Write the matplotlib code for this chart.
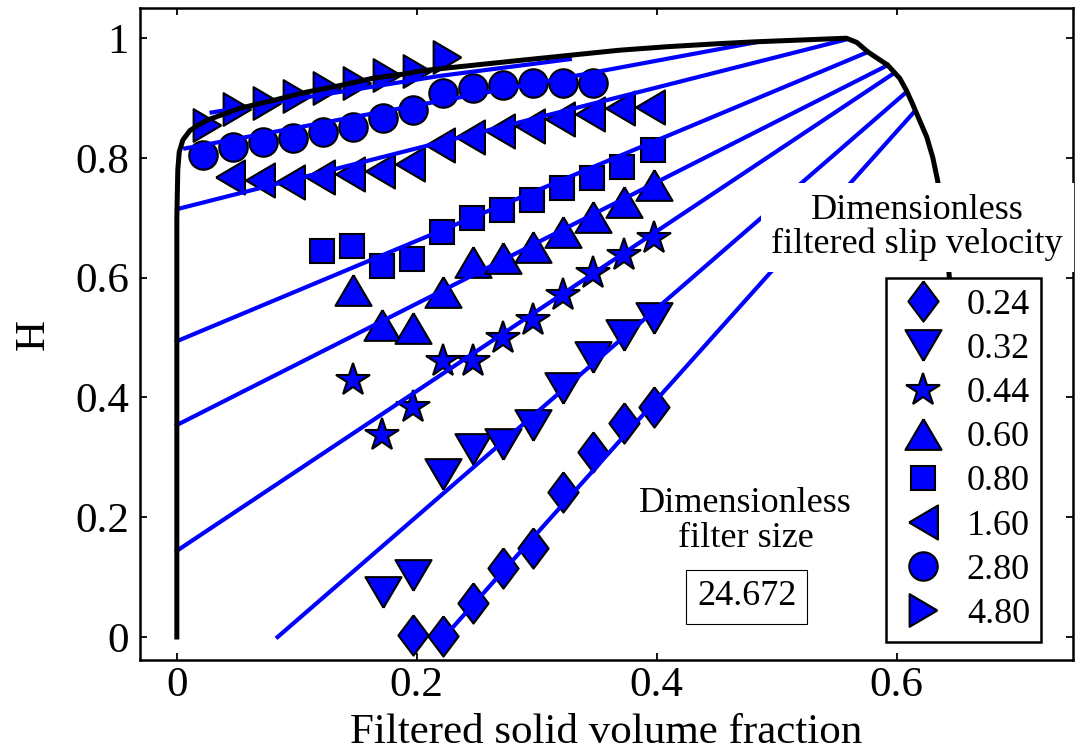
import matplotlib
matplotlib.use('Agg')
import matplotlib.pyplot as plt
from matplotlib.path import Path
from matplotlib.lines import Line2D

plt.rcParams['font.family'] = 'Liberation Serif'

# upper bound curve (black)
bound_x = [0.0, 0.0, 0.0008, 0.002, 0.005, 0.011, 0.018, 0.025, 0.0525, 0.08, 0.108, 0.136,
           0.163, 0.192, 0.2025, 0.219, 0.286, 0.369, 0.41, 0.4525, 0.482, 0.52, 0.545,
           0.558, 0.5667, 0.576, 0.5925, 0.6025, 0.608, 0.613, 0.619, 0.625, 0.63, 0.634,
           0.639, 0.643, 0.646, 0.649]
bound_h = [0.0, 0.70, 0.78, 0.81, 0.83, 0.846, 0.855, 0.863, 0.883, 0.896, 0.91, 0.921,
           0.933, 0.941, 0.945, 0.949, 0.963, 0.98, 0.986, 0.991, 0.994, 0.997, 0.999,
           1.0, 0.993, 0.977, 0.955, 0.933, 0.913, 0.891, 0.863, 0.835, 0.801, 0.763,
           0.70, 0.62, 0.55, 0.40]

labels = ['0.24', '0.32', '0.44', '0.60', '0.80', '1.60', '2.80', '4.80']

# filtered data
x_024 = [0.197, 0.222, 0.247, 0.272, 0.297, 0.322, 0.347, 0.373, 0.398]
h_024 = [0.003, 0.002, 0.057, 0.115, 0.149, 0.242, 0.309, 0.357, 0.384]
x_032 = [0.172, 0.197, 0.222, 0.247, 0.272, 0.297, 0.322, 0.347, 0.373, 0.398]
h_032 = [0.075, 0.104, 0.272, 0.314, 0.322, 0.354, 0.416, 0.467, 0.504, 0.533]
x_044 = [0.147, 0.171, 0.197, 0.222, 0.247, 0.272, 0.297, 0.322, 0.347, 0.373, 0.398]
h_044 = [0.429, 0.337, 0.384, 0.461, 0.461, 0.499, 0.529, 0.571, 0.608, 0.638, 0.666]
x_060 = [0.147, 0.171, 0.197, 0.222, 0.247, 0.272, 0.297, 0.322, 0.347, 0.373, 0.398]
h_060 = [0.579, 0.521, 0.516, 0.576, 0.626, 0.633, 0.651, 0.676, 0.701, 0.726, 0.755]
x_080 = [0.121, 0.146, 0.171, 0.196, 0.221, 0.246, 0.271, 0.296, 0.321, 0.346, 0.371, 0.397]
h_080 = [0.644, 0.653, 0.619, 0.631, 0.676, 0.699, 0.713, 0.730, 0.750, 0.766, 0.785, 0.813]
x_160 = [0.044, 0.069, 0.094, 0.119, 0.144, 0.169, 0.194, 0.219, 0.244, 0.269, 0.294,
         0.319, 0.344, 0.369, 0.394]
h_160 = [0.768, 0.763, 0.760, 0.768, 0.773, 0.778, 0.790, 0.821, 0.835, 0.845, 0.853,
         0.865, 0.873, 0.883, 0.885]
x_280 = [0.022, 0.047, 0.072, 0.097, 0.122, 0.147, 0.172, 0.197, 0.222, 0.247, 0.272,
         0.297, 0.322, 0.347]
h_280 = [0.805, 0.818, 0.826, 0.833, 0.843, 0.851, 0.866, 0.880, 0.908, 0.917, 0.922,
         0.925, 0.925, 0.925]
x_480 = [0.025, 0.05, 0.075, 0.10, 0.125, 0.15, 0.175, 0.20, 0.225]
h_480 = [0.855, 0.882, 0.892, 0.903, 0.917, 0.925, 0.938, 0.945, 0.968]

# fitted lines
fx_024 = [0.225, 0.615];  fh_024 = [0.005, 0.878]
fx_032 = [0.084, 0.608];  fh_032 = [0.0, 0.910]
fx_044 = [0.0, 0.598];    fh_044 = [0.144, 0.942]
fx_060 = [0.0, 0.5925];   fh_060 = [0.354, 0.955]
fx_080 = [0.0, 0.576];    fh_080 = [0.494, 0.977]
fx_160 = [0.001, 0.558];  fh_160 = [0.715, 0.998]
fx_280 = [0.007, 0.482];  fh_280 = [0.816, 0.993]
fx_480 = [0.029, 0.219, 0.3275];  fh_480 = [0.876, 0.937, 0.965]

#%% marker shapes (matlab-ish, triangles wider than tall)
diamond = Path([(0, 1), (0.75, 0), (0, -1), (-0.75, 0), (0, 1)])
tri_up = Path([(0, 0.85), (1, -0.85), (-1, -0.85), (0, 0.85)])
tri_down = Path([(0, -0.85), (1, 0.85), (-1, 0.85), (0, -0.85)])
tri_left = Path([(-0.85, 0), (0.85, 1), (0.85, -1), (-0.85, 0)])
tri_right = Path([(0.85, 0), (-0.85, 1), (-0.85, -1), (0.85, 0)])

markers = [diamond, tri_down, '*', tri_up, 's', tri_left, 'o', tri_right]
msizes = [29, 26, 25, 26, 17, 24.5, 20.5, 23.5]
XS = [x_024, x_032, x_044, x_060, x_080, x_160, x_280, x_480]
HS = [h_024, h_032, h_044, h_060, h_080, h_160, h_280, h_480]
FXS = [fx_024, fx_032, fx_044, fx_060, fx_080, fx_160, fx_280, fx_480]
FHS = [fh_024, fh_032, fh_044, fh_060, fh_080, fh_160, fh_280, fh_480]

FS = 31

fig = plt.figure(figsize=(10.76, 7.53), dpi=100)
ax = fig.add_axes([0.130, 0.1235, 0.867, 0.8655])

for i in [7, 0, 1, 2, 3, 4, 5, 6]:
    ax.plot(XS[i], HS[i], linestyle='none', marker=markers[i], ms=msizes[i],
            mfc='b', mec='k', mew=1.5, zorder=2)
for i in range(8):
    ax.plot(FXS[i], FHS[i], color='b', lw=3.0, zorder=3)
ax.plot(bound_x, bound_h, color='k', lw=3.6, zorder=4, solid_joinstyle='round')

ax.set_xlim(-0.0308, 0.7467)
ax.set_ylim(-0.0384, 1.050)
ax.set_xticks([0, 0.2, 0.4, 0.6])
ax.set_xticklabels(['0', '0.2', '0.4', '0.6'])
ax.set_yticks([0, 0.2, 0.4, 0.6, 0.8, 1])
ax.set_yticklabels(['0', '0.2', '0.4', '0.6', '0.8', '1'])
ax.tick_params(direction='in', length=5, width=1.3, top=True, right=True,
               labelsize=FS)
ax.tick_params(axis='x', pad=5)
ax.tick_params(axis='y', pad=8)
for s in ax.spines.values():
    s.set_linewidth(1.8)

ax.set_xlabel('Filtered solid volume fraction', fontsize=FS, labelpad=6)
ax.set_ylabel('H', fontsize=FS, labelpad=16)

ax.text(0.617, 0.684, 'Dimensionless\nfiltered slip velocity', fontsize=26,
        ha='center', va='center', multialignment='center', linespacing=1.05,
        bbox=dict(boxstyle='square,pad=0.3', fc='white', ec='none'), zorder=5)
ax.text(0.474, 0.194, 'Dimensionless\nfilter size', fontsize=26,
        ha='center', va='center', multialignment='center', linespacing=1.1, zorder=5)
ax.text(0.475, 0.067, '24.672', fontsize=26, ha='center', va='center',
        bbox=dict(boxstyle='square,pad=0.3', fc='white', ec='k', lw=0.8), zorder=5)

handles = [Line2D([], [], linestyle='none', marker=markers[i], ms=msizes[i],
                  mfc='b', mec='k', mew=1.5) for i in range(8)]
leg = ax.legend(handles, labels, loc='upper left', bbox_to_anchor=(0.823, 0.631),
                bbox_transform=fig.transFigure, fontsize=26, frameon=True,
                fancybox=False, edgecolor='k', framealpha=1, borderpad=0.3,
                labelspacing=0.3, handlelength=1.5, handletextpad=0.45,
                borderaxespad=0)
leg.get_frame().set_linewidth(1.8)
leg.set_zorder(6)

fig.savefig('out.png', dpi=100)
